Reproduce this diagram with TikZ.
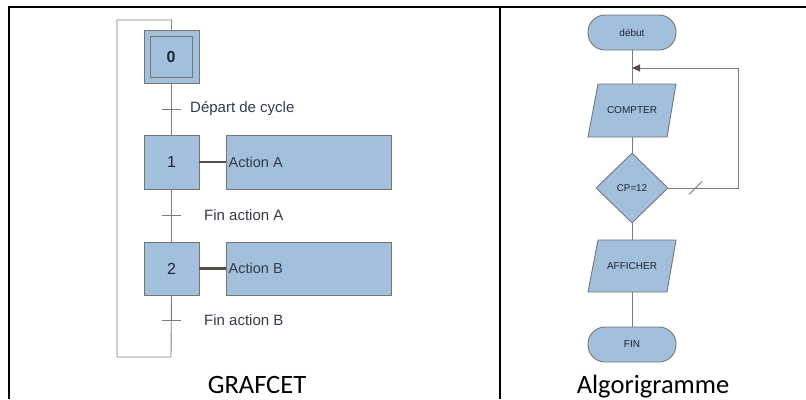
\documentclass[tikz,border=0pt]{standalone}
\usepackage{fontspec}
\setmainfont{Liberation Sans}
\newfontfamily\capfont{Carlito}
\usetikzlibrary{arrows.meta,shapes.geometric,calc}

\definecolor{boxfill}{HTML}{A2BFDC}
\definecolor{boxline}{HTML}{767676}
\definecolor{wire}{HTML}{7C7C7C}
\definecolor{linkcol}{HTML}{5A4B49}
\definecolor{ink}{HTML}{1E2533}

\tikzset{
  x=1pt, y=-1pt,
  frame/.style={line width=2pt, black},
  stepbox/.style={draw=boxline, fill=boxfill, line width=0.9pt, rectangle,
    minimum width=55pt, minimum height=54pt, inner sep=0pt,
    font=\fontsize{16}{16}\selectfont, text=ink},
  actbox/.style={draw=boxline, fill=boxfill, line width=0.9pt, rectangle,
    minimum width=165pt, minimum height=54pt, inner sep=0pt},
  wireline/.style={draw=wire, line width=0.9pt},
  linkline/.style={draw=linkcol, line width=2.6pt},
  lbl/.style={anchor=west, inner sep=0pt, text=ink!90,
    font=\fontsize{15}{15}\selectfont},
  pill/.style={draw=boxline, fill=boxfill, line width=0.9pt, rectangle,
    rounded corners=17pt, minimum width=88pt, minimum height=35pt,
    inner sep=0pt, text=ink, font=\fontsize{10}{10}\selectfont},
  para/.style={draw=boxline, fill=boxfill, line width=0.9pt},
  paratext/.style={rectangle, minimum width=78pt, minimum height=53pt,
    inner sep=0pt, text=ink, font=\fontsize{10}{10}\selectfont},
  decision/.style={diamond, draw=boxline, fill=boxfill, line width=0.9pt,
    minimum width=72pt, minimum height=70pt, inner sep=0pt, text=ink,
    font=\fontsize{9.8}{10}\selectfont},
  caption/.style={anchor=base, inner sep=0pt,
    font=\capfont\fontsize{26.5}{27}\selectfont},
}

\begin{document}
\begin{tikzpicture}
\useasboundingbox (0,0) rectangle (806,399);
\fill[white] (0,0) rectangle (806,399);

% table frame
\draw[frame] (9,399) -- (9,7) -- (806,7);
\draw[frame] (500,7) -- (500,399);

% ---------------- GRAFCET ----------------
\node[stepbox, minimum height=53pt] (s0) at (171.5,56.5) {};
\node[draw=boxline, line width=0.9pt, rectangle, minimum width=42pt,
  minimum height=41pt, inner sep=0pt, font=\bfseries\fontsize{16}{16}\selectfont,
  text=ink] (s0in) at (171,56.5) {0};
\node[stepbox] (s1) at (171.5,162) {1};
\node[stepbox, minimum height=53pt] (s2) at (171.5,268.5) {2};

\node[actbox] (a1) at (308.5,162) {};
\node[actbox, minimum height=53pt] (a2) at (308.5,268.5) {};
\node[lbl, font=\fontsize{14.5}{15}\selectfont] (a1t) at (228.5,162) {Action A};
\node[lbl, font=\fontsize{14.5}{15}\selectfont] (a2t) at (228.5,268.5) {Action B};

\draw[linkline] (s1.east) -- (a1.west);
\draw[linkline] (s2.east) -- (a2.west);

% links between steps
\draw[wireline] (s0.south) -- (s1.north);
\draw[wireline] (s1.south) -- (s2.north);
\coordinate (loopbot) at (171,357);
\coordinate (looptop) at (117,20);
\draw[wireline] (s2.south) -- (loopbot) -| (looptop) -| (s0.north);

% transitions
\coordinate (t1) at (171,109);
\coordinate (t2) at (171,215);
\coordinate (t3) at (171,320);
\foreach \t in {t1,t2,t3}
  \draw[wireline] ($(\t)+(-9.5,0)$) -- ($(\t)+(9.5,0)$);
\node[lbl] (r1) at (190,109) {Départ de cycle};
\node[lbl] (r2) at (204,215) {Fin action A};
\node[lbl] (r3) at (204,320) {Fin action B};

\node[caption] (cap1) at (257,393) {GRAFCET};

% ---------------- Algorigramme ----------------
\node[pill] (deb) at (632,32.5) {début};

\draw[para] (598,84) -- (676,84) -- (667,137) -- (588,137) -- cycle;
\node[paratext] (cpt) at (632,110.5) {COMPTER};

\node[decision] (test) at (632,188) {CP=12};

\draw[para] (598,240) -- (676,240) -- (667,292) -- (588,292) -- cycle;
\node[paratext, minimum height=52pt] (aff) at (632,266) {AFFICHER};

\node[pill] (fin) at (632,344.5) {FIN};

\coordinate (merge) at (632,68);
\draw[wireline] (deb.south) -- (cpt.north);
\draw[wireline] (cpt.south) -- (test.north);
\draw[wireline] (test.south) -- (aff.north);
\draw[wireline] (aff.south) -- (fin.north);
\draw[wireline, -{Triangle[length=8pt,width=7pt,color=linkcol]}]
  (test.east) -- (738,188) |- (merge);
% crossing mark on the return line
\draw[wireline] (689,194.5) -- (702,181.5);

\node[caption] (cap2) at (653,393) {Algorigramme};
\end{tikzpicture}
\end{document}
